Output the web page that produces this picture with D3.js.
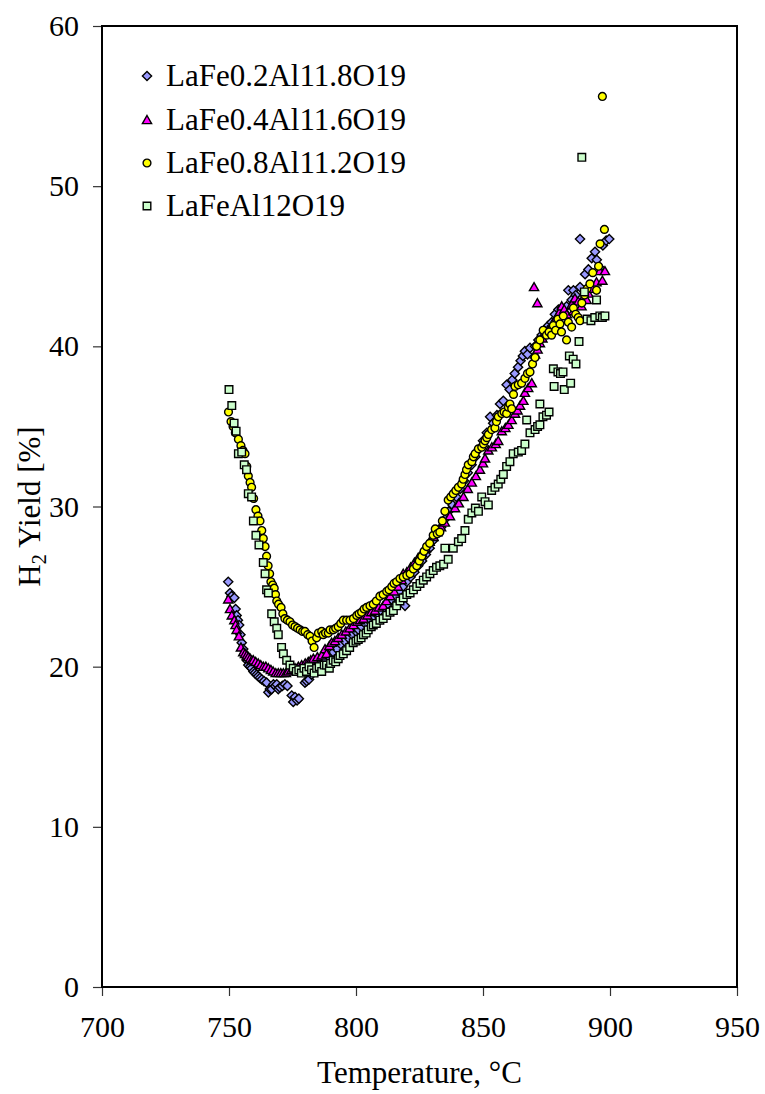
<!DOCTYPE html>
<html>
<head>
<meta charset="utf-8">
<script src="https://cdn.jsdelivr.net/npm/d3@7"></script>
<style>
  html, body { margin: 0; padding: 0; background: #fff; }
  svg { display: block; }
</style>
</head>
<body>
<svg id="chart" width="765" height="1094"></svg>
<script>
// H2 yield vs temperature for four LaFe(x)Al(12-x)O19 catalysts
const seriesNames = ["LaFe0.2Al11.8O19", "LaFe0.4Al11.6O19", "LaFe0.8Al11.2O19", "LaFeAl12O19"];

const xTicks = [700, 750, 800, 850, 900, 950];
const yTicks = [0, 10, 20, 30, 40, 50, 60];

// [temperature °C, H2 yield %]
const fe02 = [
  [749.7,25.3],[750.4,24.6],[751.0,24.4],[752.1,24.3],[752.6,23.6],[753.0,23.2],[753.5,22.9],[754.0,22.6],
  [754.5,22.0],[755.0,21.5],[755.6,21.1],[756.3,20.8],[757.0,20.4],[757.6,20.1],[758.3,20.0],[758.9,19.9],
  [759.6,19.7],[760.2,19.6],[760.9,19.5],[761.5,19.4],[762.2,19.3],[762.9,19.2],[763.8,19.1],[764.8,19.0],
  [765.5,18.4],[766.1,18.6],[766.8,18.6],[767.5,18.9],[768.2,18.8],[768.8,18.9],[769.4,18.6],[770.0,18.7],
  [771.0,18.8],[772.0,18.9],[773.0,18.8],[774.7,18.2],[775.3,17.8],[776.0,18.1],[776.8,17.9],[777.5,18.0],
  [779.9,19.0],[780.6,19.1],[781.5,19.2],[782.5,19.5],[783.5,19.7],[785.0,19.9],[786.5,20.2],[788.0,20.4],
  [789.5,20.6],[791.0,20.9],[792.5,21.1],[794.0,21.4],[795.5,21.6],[797.0,21.8],[798.5,22.0],[800.0,22.2],
  [801.0,22.3],[802.2,22.5],[803.5,22.7],[805.0,22.9],[806.5,23.1],[808.0,23.3],[809.5,23.5],[811.0,23.7],
  [812.5,23.9],[814.0,24.2],[815.5,24.4],[817.0,24.7],[818.5,25.0],[819.3,23.8],[820.0,25.3],[821.5,25.6],
  [823.0,25.9],[824.5,26.3],[826.0,26.6],[827.5,27.0],[829.0,27.4],[830.5,27.9],[832.0,28.3],[833.5,28.7],
  [835.0,29.2],[836.5,29.7],[838.0,30.1],[839.5,30.6],[841.0,31.1],[842.5,31.6],[844.0,32.1],[845.5,32.6],
  [847.0,33.1],[848.5,33.6],[850.0,34.1],[851.5,34.6],[852.8,35.6],[854.0,35.2],[855.5,35.7],[856.7,36.4],
  [858.0,36.6],[859.3,37.6],[860.5,37.3],[861.5,37.9],[862.5,38.3],[863.8,38.7],[864.8,39.1],[865.7,39.4],
  [866.5,39.7],[867.5,39.5],[868.5,39.9],[870.5,40.0],[871.8,40.4],[873.1,40.7],[874.4,40.9],[875.7,41.3],
  [877.0,41.5],[878.3,42.0],[879.7,42.3],[881.0,42.4],[882.9,42.5],[883.6,43.5],[884.9,42.9],[885.6,43.5],
  [886.5,43.2],[888.2,43.7],[888.2,46.7],[890.2,44.5],[891.5,44.8],[892.8,45.5],[894.1,45.9],[894.8,45.4],
  [896.0,44.9],[897.2,46.3],[898.5,46.6],[899.7,46.7]
];

const fe04 = [
  [749.7,24.2],[750.4,23.6],[751.1,23.2],[752.1,22.9],[752.6,22.6],[753.0,22.3],[753.9,21.9],[754.7,21.2],
  [755.6,20.9],[756.3,20.8],[757.0,20.7],[757.6,20.6],[758.3,20.5],[759.0,20.4],[759.6,20.4],[760.5,20.3],
  [761.5,20.2],[762.5,20.1],[763.5,20.0],[764.5,20.0],[765.5,19.9],[766.5,19.8],[767.4,19.7],[768.4,19.6],
  [769.4,19.6],[770.4,19.6],[771.4,19.6],[772.4,19.6],[773.3,19.7],[774.6,19.8],[776.0,19.9],[777.3,20.0],
  [778.6,20.1],[780.0,20.2],[781.2,20.3],[782.2,20.4],[783.2,20.5],[784.8,20.6],[786.5,20.7],[787.8,21.1],
  [788.4,20.8],[789.5,21.3],[790.4,21.5],[791.7,21.6],[793.0,21.8],[794.4,22.0],[796.0,22.2],[797.5,22.4],
  [799.0,22.6],[800.5,22.8],[801.6,22.9],[803.0,23.0],[804.5,23.2],[806.0,23.4],[807.5,23.5],[809.0,23.7],
  [810.7,23.8],[812.0,24.1],[813.5,24.4],[815.0,24.7],[816.5,25.0],[818.0,25.4],[818.6,25.8],[820.0,25.9],
  [821.5,26.2],[823.0,26.5],[824.5,26.8],[826.0,27.1],[827.5,27.4],[829.0,27.8],[830.5,28.1],[832.0,28.4],
  [833.5,28.7],[835.0,29.0],[837.0,29.4],[839.0,29.9],[840.5,30.2],[842.3,30.6],[844.0,31.1],[845.6,31.5],
  [847.2,31.9],[848.8,32.3],[850.0,32.7],[850.8,33.0],[852.1,33.5],[853.5,33.7],[855.0,33.9],[856.0,34.1],
  [857.4,34.7],[858.8,34.9],[860.0,35.1],[861.3,35.4],[862.6,35.8],[863.6,36.0],[864.6,36.3],[865.9,36.6],
  [866.5,37.1],[867.8,37.4],[869.2,37.7],[870.1,43.7],[871.4,42.7],[870.5,39.5],[871.5,39.8],[872.4,40.2],
  [873.4,40.5],[874.4,40.9],[875.4,41.0],[876.4,41.1],[877.7,41.5],[879.0,41.8],[880.0,42.1],[881.0,42.5],
  [882.0,42.3],[883.0,42.0],[884.9,42.6],[885.6,42.2],[886.2,43.0],[887.5,42.8],[888.8,42.5],[889.8,43.1],
  [890.8,42.9],[891.5,43.3],[893.0,43.6],[894.7,44.0],[896.0,44.7],[897.0,44.1],[898.0,44.7]
];

const fe08 = [
  [749.8,35.9],[750.8,35.3],[751.6,35.0],[752.5,34.6],[753.7,34.2],[754.7,33.8],[755.5,33.5],[756.3,33.3],
  [757.0,32.5],[757.6,31.9],[758.3,31.5],[758.9,31.2],[759.7,30.5],[760.6,29.8],[761.4,29.4],[762.2,29.1],
  [762.9,28.5],[763.5,28.0],[764.2,27.5],[764.8,26.9],[765.4,26.3],[766.0,25.8],[766.5,25.3],[767.2,25.1],
  [767.8,24.9],[768.3,24.5],[768.8,24.1],[769.5,23.9],[770.5,23.7],[771.2,23.3],[772.0,23.0],[773.0,22.9],
  [774.0,22.8],[775.0,22.6],[776.0,22.5],[777.0,22.4],[778.0,22.3],[779.0,22.2],[779.9,22.2],[781.0,22.0],
  [781.9,21.9],[782.7,21.6],[783.5,21.2],[784.5,21.8],[785.2,22.1],[786.5,22.2],[787.1,22.0],[788.0,22.1],
  [789.1,22.1],[789.8,22.3],[791.1,22.3],[792.0,22.4],[793.0,22.5],[794.0,22.7],[795.0,22.9],[796.3,22.9],
  [797.6,22.9],[799.0,23.0],[800.3,23.2],[801.2,23.3],[802.2,23.4],[803.2,23.6],[804.2,23.7],[805.5,23.8],
  [806.8,23.9],[808.0,24.1],[809.4,24.4],[810.7,24.5],[812.1,24.7],[813.0,24.8],[814.1,25.0],[815.0,25.2],
  [816.0,25.3],[817.3,25.5],[818.6,25.6],[820.0,25.7],[821.3,25.8],[822.6,26.1],[823.9,26.3],[824.9,26.6],
  [825.9,26.9],[826.8,27.2],[827.8,27.5],[829.0,27.7],[830.4,28.2],[831.2,28.6],[832.0,28.3],[833.0,28.4],
  [834.0,29.1],[835.0,29.7],[836.3,30.4],[837.3,30.6],[838.3,30.8],[839.3,31.0],[840.3,31.2],[841.6,31.4],
  [842.2,31.7],[842.9,32.0],[843.5,32.3],[844.2,32.6],[845.6,32.8],[846.2,33.1],[846.9,33.3],[848.2,33.6],
  [849.5,33.7],[850.2,33.9],[850.8,34.1],[851.5,34.3],[852.1,34.5],[853.4,34.8],[854.7,34.9],[855.3,35.3],
  [856.0,35.6],[857.4,35.8],[858.3,35.9],[859.3,35.8],[860.0,36.2],[860.6,36.4],[861.3,36.1],[862.0,37.0],
  [862.6,37.5],[863.9,37.6],[865.2,37.7],[866.5,38.0],[867.5,38.3],[868.5,38.4],[869.5,38.9],[870.5,39.3],
  [871.1,40.0],[872.4,40.4],[873.7,41.0],[875.0,40.7],[876.0,40.9],[877.0,40.7],[877.7,41.3],[878.6,41.0],
  [879.5,41.7],[880.3,41.4],[880.9,40.9],[881.6,41.9],[882.9,40.4],[883.6,41.5],[884.9,41.2],[885.6,42.4],
  [886.5,42.0],[887.5,41.8],[888.2,41.6],[888.9,42.7],[890.0,43.2],[891.0,43.6],[892.1,43.9],[893.2,44.6],
  [894.7,43.5],[895.5,45.0],[896.1,46.4],[897.0,55.6],[897.8,47.3]
];

const fe10 = [
  [750.0,37.3],[751.1,36.3],[752.0,35.2],[752.8,34.7],[753.7,33.3],[755.0,33.4],[756.0,32.6],[756.9,32.3],
  [757.6,30.8],[758.9,30.6],[759.6,29.1],[760.6,28.2],[761.8,27.6],[763.5,26.5],[764.2,25.8],[764.8,24.8],
  [765.5,24.6],[766.8,23.3],[767.8,22.8],[768.8,22.4],[769.4,22.0],[770.7,21.2],[771.4,20.8],[772.7,20.4],
  [774.0,20.1],[775.3,19.9],[776.5,19.7],[777.5,19.8],[778.5,19.6],[779.5,19.9],[780.5,19.7],[781.5,20.0],
  [782.5,19.8],[783.5,19.6],[784.5,19.9],[785.5,20.0],[786.5,19.7],[787.5,20.1],[788.4,20.1],[789.5,19.9],
  [790.0,20.2],[791.0,20.4],[792.0,20.3],[793.0,20.5],[793.7,20.7],[795.0,20.8],[796.3,21.0],[797.5,21.2],
  [798.9,21.5],[800.0,21.6],[800.9,21.7],[802.0,21.8],[802.9,22.0],[804.0,22.1],[804.8,22.3],[806.0,22.5],
  [806.8,22.6],[808.0,22.7],[809.4,22.9],[810.7,23.0],[812.1,23.2],[813.4,23.4],[814.7,23.5],[816.0,23.8],
  [817.3,24.1],[818.6,24.3],[820.0,24.5],[821.3,24.6],[822.6,24.8],[823.9,25.0],[825.2,25.2],[826.5,25.4],
  [827.8,25.6],[829.1,25.8],[830.4,26.0],[831.7,26.2],[833.0,26.3],[834.5,26.4],[836.3,26.7],[835.0,27.4],
  [838.3,27.4],[840.3,27.8],[841.6,28.0],[842.9,28.5],[844.2,29.2],[845.6,29.6],[847.0,29.9],[848.2,29.7],
  [849.5,30.6],[850.8,30.3],[852.1,30.1],[853.4,31.0],[854.7,31.2],[856.0,31.4],[857.0,31.7],[858.0,32.0],
  [859.3,32.5],[860.6,32.8],[861.9,33.3],[863.9,33.4],[865.2,33.5],[866.5,33.9],[867.2,35.4],[868.5,34.6],
  [870.5,34.8],[871.5,35.0],[872.4,35.1],[872.4,36.4],[873.6,35.6],[875.0,35.7],[876.0,35.9],[877.7,38.6],
  [878.0,37.5],[879.5,38.4],[880.5,38.3],[881.5,38.4],[882.0,37.3],[884.5,37.7],[884.0,39.4],[885.5,39.2],
  [886.6,38.9],[887.8,40.3],[889.9,43.4],[888.9,51.8],[891.0,41.7],[892.5,41.6],[894.0,41.8],[894.7,42.9],
  [896.0,41.9],[897.0,41.8],[898.0,41.9]
];

const seriesData = [fe02, fe04, fe08, fe10];
const fills = ["#9999FF", "#FF00FF", "#FFFF00", "#CCFFCC"];
const shapes = ["diamond", "triangle", "circle", "square"];

const FONT = '"Liberation Serif", "Times New Roman", Times, serif';

const svg = d3.select("#chart");
const plot = { left: 102, right: 737, top: 26, bottom: 987 };

const x = d3.scaleLinear().domain([700, 950]).range([plot.left, plot.right]);
const y = d3.scaleLinear().domain([0, 60]).range([plot.bottom, plot.top]);

// marker outlines
function markerPath(shape) {
  const p = d3.path();
  if (shape === "diamond") {
    const r = 4.6;
    p.moveTo(0, -r); p.lineTo(r, 0); p.lineTo(0, r); p.lineTo(-r, 0); p.closePath();
  } else if (shape === "triangle") {
    p.moveTo(0, -4.5); p.lineTo(4.6, 3.6); p.lineTo(-4.6, 3.6); p.closePath();
  } else if (shape === "circle") {
    p.arc(0, 0, 3.9, 0, 2 * Math.PI);
  } else {
    p.rect(-3.8, -3.8, 7.6, 7.6);
  }
  return p.toString();
}

// axes
const yAxis = d3.axisLeft(y).tickValues(yTicks).tickSize(9).tickPadding(14).tickFormat(d3.format("d"));
const xAxis = d3.axisBottom(x).tickValues(xTicks).tickSize(9).tickPadding(20).tickFormat(d3.format("d"));

const gy = svg.append("g").attr("transform", `translate(${plot.left},0)`).call(yAxis);
const gx = svg.append("g").attr("transform", `translate(0,${plot.bottom})`).call(xAxis);

[gx, gy].forEach(g => {
  g.attr("font-family", FONT);
  g.select(".domain").remove();
  g.selectAll(".tick line").attr("stroke", "#333").attr("stroke-width", 1.2);
  g.selectAll(".tick text").attr("font-family", FONT).attr("font-size", 30).attr("fill", "#000");
});

// plot frame
svg.append("rect")
  .attr("x", plot.left).attr("y", plot.top)
  .attr("width", plot.right - plot.left).attr("height", plot.bottom - plot.top)
  .attr("fill", "none").attr("stroke", "#000").attr("stroke-width", 2);

// series markers
seriesData.forEach((data, i) => {
  svg.append("g").attr("class", "series")
    .selectAll("path")
    .data(data)
    .join("path")
    .attr("d", markerPath(shapes[i]))
    .attr("transform", d => `translate(${x(d[0])},${y(d[1])})`)
    .attr("fill", fills[i])
    .attr("stroke", "#000")
    .attr("stroke-width", 1.4);
});

// legend
const legend = svg.append("g").attr("font-family", FONT);
const legendRows = [76, 120, 163, 206];
seriesNames.forEach((name, i) => {
  legend.append("path")
    .attr("d", markerPath(shapes[i]))
    .attr("transform", `translate(147,${legendRows[i]})`)
    .attr("fill", fills[i]).attr("stroke", "#000").attr("stroke-width", 1.4);
  legend.append("text")
    .attr("x", 166).attr("y", legendRows[i] + 10)
    .attr("font-family", FONT)
    .attr("font-size", 31)
    .attr("fill", "#000")
    .text(name);
});

// axis titles
svg.append("text")
  .attr("x", (plot.left + plot.right) / 2).attr("y", 1083)
  .attr("text-anchor", "middle")
  .attr("font-family", FONT).attr("font-size", 31).attr("fill", "#000")
  .text("Temperature, \u00B0C");

const yt = svg.append("text")
  .attr("transform", `translate(40,${(plot.top + plot.bottom) / 2}) rotate(-90)`)
  .attr("text-anchor", "middle")
  .attr("font-family", FONT).attr("font-size", 31).attr("fill", "#000");
yt.append("tspan").text("H");
yt.append("tspan").attr("font-size", 20).attr("dy", 6).text("2");
yt.append("tspan").attr("dy", -6).text(" Yield [%]");
</script>
</body>
</html>
